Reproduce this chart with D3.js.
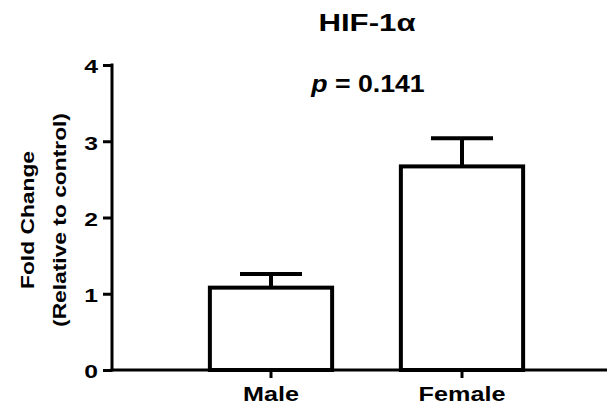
<!DOCTYPE html>
<html>
<head>
<meta charset="utf-8">
<script src="https://cdn.jsdelivr.net/npm/d3@7"></script>
<style>
  body { margin: 0; background: #fff; }
  svg text { font-family: "Liberation Sans", Arial, sans-serif; font-weight: bold; fill: #000; }
</style>
</head>
<body>
<svg id="chart" width="607" height="407"></svg>
<script>
// Fold change of HIF-1α by sex (mean ± SEM)
const categories = ["Male", "Female"];
const means = [1.08, 2.67];
const errors = [0.18, 0.37];
const yTicks = [0, 1, 2, 3, 4];
const title = "HIF-1α";
const pValue = "0.141";

const svg = d3.select("#chart");
const x0 = 112, x1 = 607, yBottom = 370, yTop = 65;
const wide = 1.2; // horizontal widening of the bold labels

const y = d3.scaleLinear().domain([0, 4]).range([yBottom, yTop]);
const x = d3.scaleBand().domain(categories)
  .range([175.5, 557.5]).paddingInner(0.36).paddingOuter(0.18);

// bars
svg.selectAll("rect.bar").data(categories).join("rect")
  .attr("class", "bar")
  .attr("x", d => x(d))
  .attr("y", (d, i) => y(means[i]))
  .attr("width", x.bandwidth())
  .attr("height", (d, i) => y(0) - y(means[i]))
  .attr("fill", "#fff").attr("stroke", "#000").attr("stroke-width", 4);

// error bars (upper only)
const capHalf = 31;
categories.forEach((c, i) => {
  const cx = x(c) + x.bandwidth() / 2;
  const top = y(means[i] + errors[i]);
  svg.append("line").attr("x1", cx).attr("x2", cx)
    .attr("y1", y(means[i])).attr("y2", top)
    .attr("stroke", "#000").attr("stroke-width", 4);
  svg.append("line").attr("x1", cx - capHalf).attr("x2", cx + capHalf)
    .attr("y1", top).attr("y2", top)
    .attr("stroke", "#000").attr("stroke-width", 4);
});

// y axis
const yAxis = svg.append("g").attr("transform", `translate(${x0},0)`)
  .call(d3.axisLeft(y).tickValues(yTicks).tickSize(9).tickPadding(5).tickFormat(d3.format("d")));
yAxis.select(".domain").remove();
yAxis.attr("font-size", null).attr("font-family", null);
yAxis.selectAll(".tick line").attr("stroke", "#000").attr("stroke-width", 3);
yAxis.selectAll(".tick text")
  .style("font-size", "19px")
  .attr("x", -14 / 1.3).attr("dy", "0.42em")
  .attr("transform", "scale(1.3,1)");
svg.append("line").attr("x1", x0).attr("x2", x0).attr("y1", yTop - 1.5).attr("y2", yBottom + 1.5)
  .attr("stroke", "#000").attr("stroke-width", 3);

// x axis
const xAxis = svg.append("g").attr("transform", `translate(0,${yBottom})`)
  .call(d3.axisBottom(x).tickSize(8).tickPadding(6));
xAxis.select(".domain").remove();
xAxis.attr("font-size", null).attr("font-family", null);
xAxis.selectAll(".tick line").attr("stroke", "#000").attr("stroke-width", 3);
xAxis.selectAll(".tick text")
  .style("font-size", "21px")
  .attr("y", 31).attr("dy", null)
  .attr("transform", `scale(${wide},1)`);
svg.append("line").attr("x1", x0 - 1.5).attr("x2", x1).attr("y1", yBottom).attr("y2", yBottom)
  .attr("stroke", "#000").attr("stroke-width", 3);

// title
svg.append("g").attr("transform", "translate(367,31) scale(1.3,1)")
  .append("text").attr("text-anchor", "middle")
  .style("font-size", "24px").text(title);

// p-value annotation
const pt = svg.append("g").attr("transform", "translate(368,92) scale(1.16,1)")
  .append("text").attr("text-anchor", "middle").style("font-size", "23px");
pt.append("tspan").style("font-style", "italic").text("p");
pt.append("tspan").text(" = " + pValue);

// y axis label, two lines
const yl = svg.append("g").attr("transform", "translate(0,220) rotate(-90) scale(1.2,1)")
  .append("text").attr("text-anchor", "middle").style("font-size", "19px");
yl.append("tspan").attr("x", 0).attr("y", 34).text("Fold Change");
yl.append("tspan").attr("x", 0).attr("y", 66).text("(Relative to control)");
</script>
</body>
</html>
